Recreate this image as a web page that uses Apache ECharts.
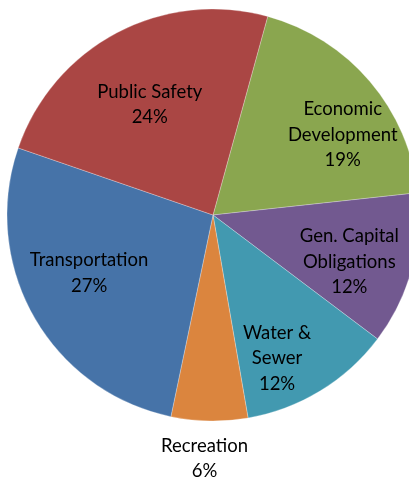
<!DOCTYPE html>
<html>
<head>
<meta charset="utf-8">
<script src="https://cdn.jsdelivr.net/npm/echarts@6/dist/echarts.min.js"></script>
<style>
html,body{margin:0;padding:0;background:#fff;}
#chart{width:409px;height:485px;}
</style>
</head>
<body>
<div id="chart"></div>
<script>
const categories = ["Economic\nDevelopment", "Gen. Capital\nObligations", "Water &\nSewer", "Recreation", "Transportation", "Public Safety"];
const values = [19, 12, 12, 6, 27, 24];
const colors = ["#8AA64F", "#725990", "#4299B0", "#DB853E", "#4673A8", "#AA4644"];

const CX = 213, CY = 215, R = 206;
// label placement tweaks: radial scale and angular shift (deg)
const labelTweak = [
  {s: 1.44, a: 8.6},
  {s: 1.36, a: 3.6},
  {s: 1.48, a: 7.3},
  {s: 2.30, a: 1},
  {s: 1.29, a: 4.6},
  {s: 1.20, a: -2}
];

const chart = echarts.init(document.getElementById('chart'), null, {renderer: 'canvas'});
chart.setOption({
  animation: false,
  series: [{
    type: 'pie',
    center: [CX, CY],
    radius: [0, R],
    startAngle: 74.6,
    clockwise: true,
    avoidLabelOverlap: false,
    data: categories.map((n, i) => ({name: n, value: values[i], itemStyle: {color: colors[i]}})),
    itemStyle: {borderColor: 'rgba(255,255,255,0.45)', borderWidth: 0.6},
    label: {
      show: true,
      position: 'inside',
      formatter: p => p.name + '\n' + p.value + '%',
      color: '#000',
      fontFamily: 'Lato, "Liberation Sans", sans-serif',
      fontSize: 18.5,
      lineHeight: 25.5,
      align: 'center'
    },
    labelLine: {show: false},
    labelLayout: function (params) {
      const t = labelTweak[params.dataIndex];
      const r = params.labelRect;
      const lx = r.x + r.width / 2, ly = r.y + r.height / 2;
      const dist = Math.hypot(lx - CX, ly - CY);
      const th = Math.atan2(lx - CX, -(ly - CY)) + t.a * Math.PI / 180;
      const nr = dist * t.s;
      const nx = CX + nr * Math.sin(th), ny = CY - nr * Math.cos(th);
      return {dx: nx - lx, dy: ny - ly};
    }
  }]
});
</script>
</body>
</html>
